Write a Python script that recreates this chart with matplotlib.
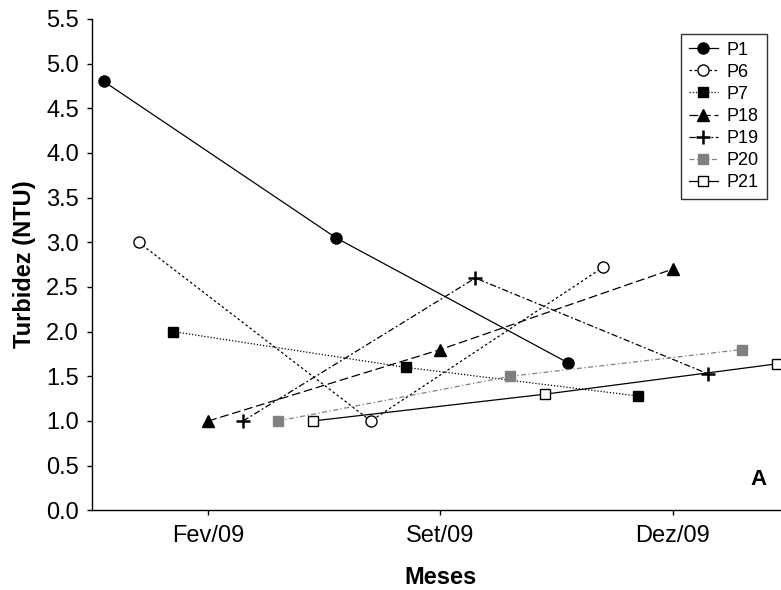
"""
Turbidez por ponto de coleta
"""

import numpy as np
import matplotlib.pyplot as plt

months = ["Fev/09", "Set/09", "Dez/09"]
labels = ["P1", "P6", "P7", "P18", "P19", "P20", "P21"]

p1 = [4.8, 3.05, 1.65]
p6 = [3.0, 1.0, 2.72]
p7 = [2.0, 1.6, 1.28]
p18 = [1.0, 1.8, 2.7]
p19 = [1.0, 2.6, 1.53]
p20 = [1.0, 1.5, 1.8]
p21 = [1.0, 1.3, 1.64]

plt.rcParams["font.family"] = ["Liberation Sans", "DejaVu Sans"]


def plot_turbidez():
    fig = plt.figure(figsize=(7.81, 5.90), dpi=100)
    ax = fig.add_axes([0.118, 0.135, 0.892, 0.833])

    x = np.arange(len(months))
    series = [p1, p6, p7, p18, p19, p20, p21]
    offsets = [-0.45, -0.3, -0.15, 0.0, 0.15, 0.3, 0.45]
    styles = [
        dict(ls="-", marker="o", mfc="black", mec="black", color="black"),
        dict(ls=(0, (2, 2)), marker="o", mfc="white", mec="black", color="black"),
        dict(ls=(0, (1, 1.5)), marker="s", mfc="black", mec="black", color="black"),
        dict(ls=(0, (7, 3)), marker="^", mfc="black", mec="black", color="black"),
        dict(ls=(0, (5, 2, 1.5, 2)), marker="+", mfc="black", mec="black",
             color="black"),
        dict(ls=(0, (4, 2, 1, 2)), marker="s", mfc="#808080", mec="#808080",
             color="#808080"),
        dict(ls="-", marker="s", mfc="white", mec="black", color="black"),
    ]
    sizes = [8, 8, 7.7, 8, 9.5, 7.7, 7.7]

    for vals, off, st, ms, lab in zip(series, offsets, styles, sizes, labels):
        ax.plot(x + off, vals, lw=0.9, ms=ms, mew=1.8 if st["marker"] == "+" else 1.0,
                label=lab, clip_on=False, **st)

    ax.set_xlim(-0.5, 2.5)
    ax.set_ylim(0, 5.5)
    ax.set_xticks(x)
    ax.set_xticklabels(months)
    ax.set_yticks(np.arange(0, 5.51, 0.5))
    ax.set_yticklabels(["%.1f" % v for v in np.arange(0, 5.51, 0.5)])
    ax.tick_params(labelsize=17, direction="out", length=3.5, width=1)
    ax.tick_params(axis="x", pad=7)
    ax.tick_params(axis="y", pad=6)

    ax.spines["top"].set_visible(False)
    ax.spines["right"].set_visible(False)
    ax.spines["left"].set_linewidth(1)
    ax.spines["bottom"].set_linewidth(1)

    ax.set_xlabel("Meses", fontsize=17, fontweight="bold", labelpad=13.5)
    ax.set_ylabel("Turbidez (NTU)", fontsize=17, fontweight="bold", labelpad=7)

    ax.text(0.957, 0.062, "A", transform=ax.transAxes, fontsize=16,
            fontweight="bold", ha="center", va="center")

    leg = ax.legend(loc="upper right", bbox_to_anchor=(0.968, 0.969), fontsize=13,
                    frameon=True, fancybox=False, handlelength=1.6,
                    labelspacing=0.28, borderpad=0.42, handletextpad=0.5,
                    borderaxespad=0)
    leg.get_frame().set_edgecolor("black")
    leg.get_frame().set_linewidth(1)

    fig.savefig("out.png", dpi=100)


if __name__ == "__main__":
    plot_turbidez()
